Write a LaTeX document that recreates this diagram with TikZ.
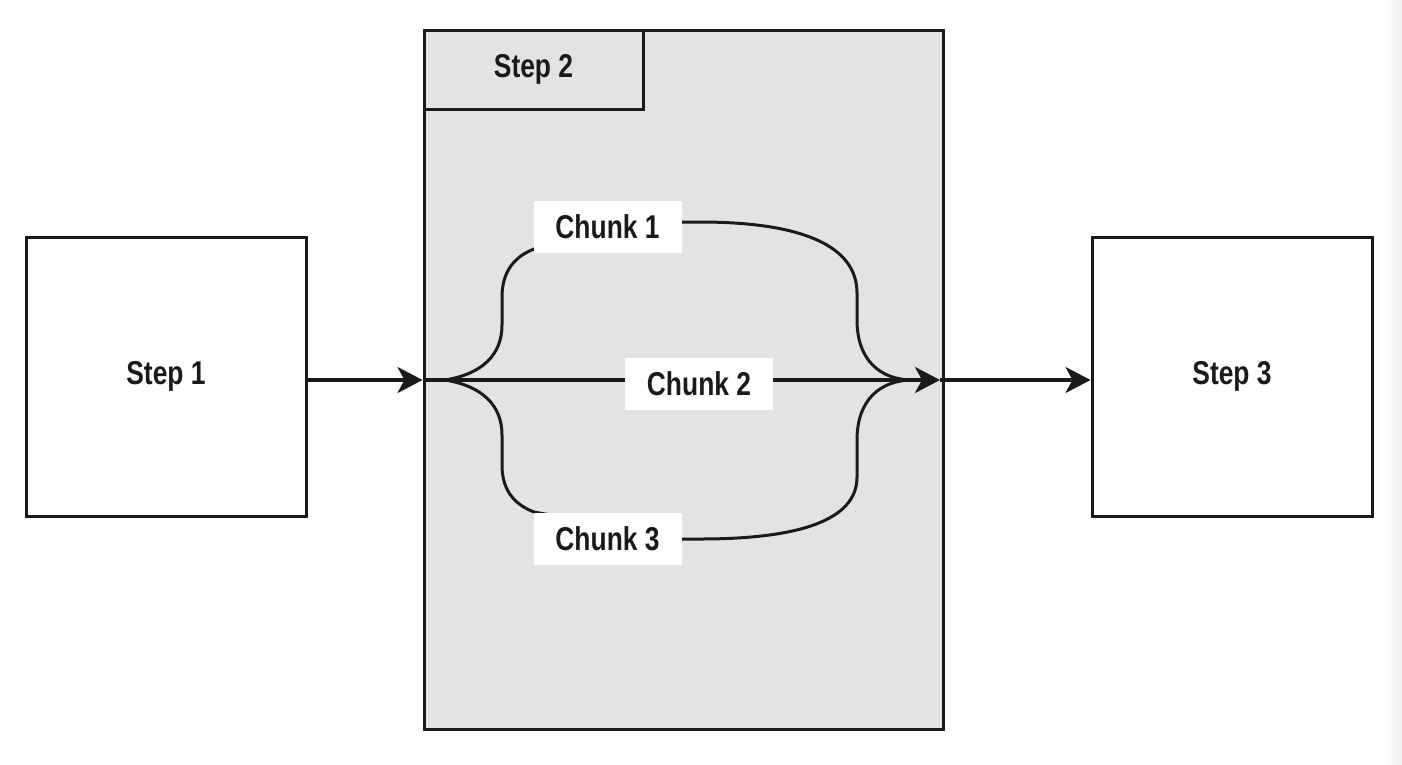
\documentclass[tikz,border=0pt]{standalone}
\usepackage{fontspec}
\setmainfont{Liberation Sans}[FakeStretch=0.8]
\usetikzlibrary{arrows.meta}
\definecolor{ink}{HTML}{1A1A1A}
\definecolor{panel}{HTML}{E3E3E3}
\tikzset{
  lbl/.style={font=\fontsize{33}{33}\selectfont\bfseries, text=ink},
  stepbox/.style={lbl, draw=ink, line width=3pt, fill=white, minimum width=280pt, minimum height=279pt},
  tabbox/.style={lbl, draw=ink, line width=3pt, fill=panel, minimum width=219pt, minimum height=79pt},
  chunkbox/.style={lbl, fill=white, minimum width=148pt, minimum height=52pt, inner sep=0pt},
  flow/.style={draw=ink, line width=3.5pt, -{Stealth[length=25pt,width=26pt,inset=7pt]}},
  curve/.style={draw=ink, line width=3pt},
}
\begin{document}
\begin{tikzpicture}[x=1pt,y=-1pt]
\useasboundingbox (0,0) rectangle (1402,764);
\fill[white] (0,0) rectangle (1402,764);
\shade[left color=white, right color=black!6] (1383,0) rectangle (1402,764);
% Step 2 panel
\node[draw=ink, line width=3pt, fill=panel, minimum width=519pt, minimum height=699pt, inner sep=0pt] (s2) at (683.5,379.5) {};
\node[tabbox, anchor=north west] (tab) at (s2.north west) {Step 2};
% Steps 1 and 3
\node[stepbox] (s1) at (166,376.5) {Step 1};
\node[stepbox] (s3) at (1232,376.5) {Step 3};
% coordinates
\coordinate (in) at (s2.west |- 0,380);
\coordinate (split) at (445,380);
\coordinate (merge) at (940,380);
\coordinate (join) at (913,380);
% chunk curves (drawn below the labels)
\draw[curve] (split) .. controls (482,374) and (502,355) .. (502,325) -- (502,297)
  .. controls (502,270) and (516,256) .. (534,249) -- (681,222) -- (700,222)
  .. controls (800,222) and (857,245) .. (857,293) -- (857,320)
  .. controls (857,360) and (880,380) .. (join);
\draw[curve] (split) .. controls (482,386) and (502,405) .. (502,435) -- (502,465)
  .. controls (502,492) and (516,505) .. (534,512) -- (681,539) -- (700,539)
  .. controls (800,539) and (857,520) .. (857,477) -- (857,440)
  .. controls (857,400) and (880,380) .. (join);
% arrows
\draw[flow] (s1.east |- 0,380) -- (in);
\draw[flow] (in) -- (merge);
\draw[flow] (merge) -- (s3.west |- 0,380);
% chunk labels
\node[chunkbox] (c1) at (607.5,226.5) {Chunk 1};
\node[chunkbox] (c2) at (699,384) {Chunk 2};
\node[chunkbox] (c3) at (607.5,538.5) {Chunk 3};
\end{tikzpicture}
\end{document}
